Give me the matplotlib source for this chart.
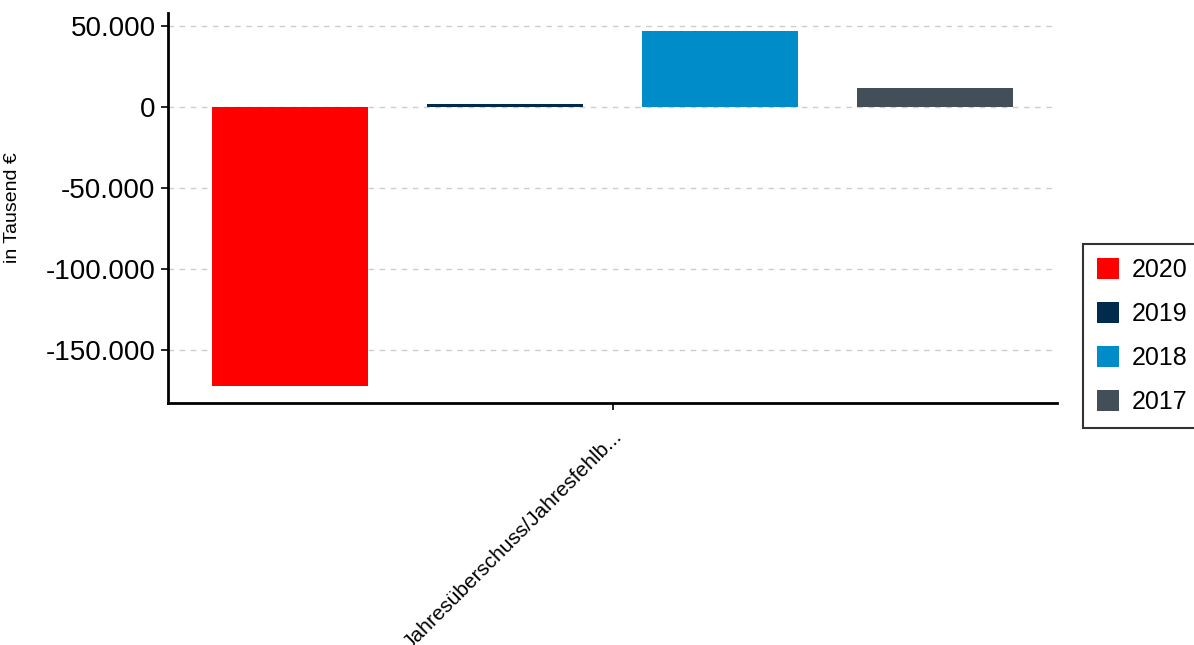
import matplotlib
matplotlib.use("Agg")
import matplotlib.pyplot as plt
import numpy as np
from matplotlib.ticker import FuncFormatter

plt.rcParams['font.family'] = ['Liberation Sans', 'DejaVu Sans']

category = ["Jahresüberschuss/Jahresfehlb..."]
years = ["2020", "2019", "2018", "2017"]
values = [-172000, 1900, 46900, 11700]
colors = ["#ff0000", "#002b4d", "#008cc9", "#434f58"]

fig = plt.figure(figsize=(11.94, 6.45), dpi=100)
ax = fig.add_axes([168/1194, 1-403/645, (1057-168)/1194, (403-13)/645])

step = 1.0
offsets = (np.arange(len(years)) - (len(years)-1)/2) * step
width = 0.727
for off, v, c, y in zip(offsets, values, colors, years):
    ax.bar(off, v, width=width, color=c, label=y, zorder=3)

ax.set_xlim(-2.07, 2.07)
ax.set_ylim(-182700, 58000)
ax.set_yticks([-150000, -100000, -50000, 0, 50000])
ax.yaxis.set_major_formatter(FuncFormatter(lambda v, p: f"{int(v):,}".replace(",", ".")))
ax.set_xticks([0])
ax.set_xticklabels(category, rotation=45, ha='right', rotation_mode='anchor', fontsize=15)
ax.tick_params(axis='y', labelsize=20, length=5, width=1.2, pad=4)
ax.tick_params(axis='x', length=5, width=1.2, pad=12)
ax.set_ylabel("in Tausend €", fontsize=14)
ax.yaxis.set_label_coords((21-168)/889, (403-208)/390)
ax.grid(axis='y', color='#cccccc', linestyle=(0, (4, 4)), linewidth=1, zorder=0)
for s in ['top', 'right']:
    ax.spines[s].set_visible(False)
for s in ['left', 'bottom']:
    ax.spines[s].set_linewidth(2)

leg = ax.legend(loc='center left', bbox_to_anchor=(1083/1194, 1-336/645), bbox_transform=fig.transFigure,
                fontsize=18, frameon=True, fancybox=False, handlelength=0.9, handleheight=0.9,
                labelspacing=0.8, handletextpad=0.5, borderpad=0.55, borderaxespad=0)
leg.get_frame().set_edgecolor('black')
leg.get_frame().set_linewidth(1.5)

fig.savefig("out.png", dpi=100)
